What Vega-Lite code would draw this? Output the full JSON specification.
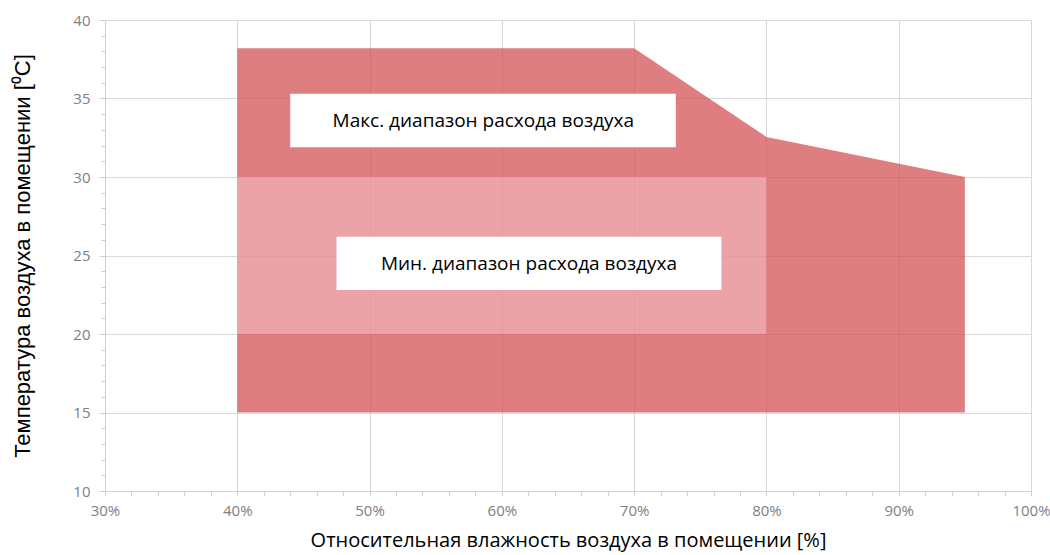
{
  "$schema": "https://vega.github.io/schema/vega-lite/v6.json",
  "width": 926,
  "height": 471,
  "autosize": {"type": "none"},
  "padding": {"left": 105, "top": 20, "right": 19, "bottom": 64},
  "background": "white",
  "config": {
    "view": {"stroke": null},
    "axis": {
      "gridColor": "#d9d9d9",
      "domainColor": "#d0d0d0",
      "tickColor": "#d0d0d0",
      "labelColor": "#808080",
      "labelFont": "Open Sans",
      "labelFontSize": 15,
      "labelFlush": false,
      "titleFontWeight": "normal",
      "titleColor": "#000000"
    }
  },
  "datasets": {
    "maxRange": [
      {"rh": 40, "t": 38.2},
      {"rh": 70, "t": 38.2},
      {"rh": 80, "t": 32.55},
      {"rh": 95, "t": 30}
    ],
    "minRange": [
      {"rh1": 40, "rh2": 80, "t1": 20, "t2": 30}
    ],
    "labels": [
      {"x1": 44, "x2": 73.15, "y1": 31.9, "y2": 35.3, "xm": 58.6, "ym": 33.55, "label": "Макс. диапазон расхода воздуха"},
      {"x1": 47.5, "x2": 76.6, "y1": 22.8, "y2": 26.2, "xm": 62.05, "ym": 24.45, "label": "Мин. диапазон расхода воздуха"}
    ]
  },
  "resolve": {"axis": {"x": "independent", "y": "independent"}},
  "layer": [
    {
      "data": {"name": "maxRange"},
      "mark": {"type": "area", "color": "#D2474C", "opacity": 0.7, "interpolate": "linear"},
      "encoding": {
        "x": {
          "field": "rh", "type": "quantitative",
          "scale": {"domain": [30, 100], "nice": false, "zero": false},
          "axis": {
            "orient": "bottom",
            "values": [30, 40, 50, 60, 70, 80, 90, 100],
            "labelExpr": "datum.value + '%'",
            "grid": true,
            "tickSize": 5,
            "labelPadding": 7,
            "title": "Относительная влажность воздуха в помещении [%]",
            "titleFont": "Open Sans",
            "titleFontSize": 20,
            "titlePadding": 12
          }
        },
        "y": {
          "field": "t", "type": "quantitative",
          "scale": {"domain": [10, 40], "nice": false, "zero": false},
          "axis": {
            "orient": "left",
            "values": [10, 15, 20, 25, 30, 35, 40],
            "grid": true,
            "tickSize": 6,
            "labelPadding": 9,
            "title": "Температура воздуха в помещении [⁰C]",
            "titleFont": "Liberation Sans",
            "titleFontSize": 22,
            "titlePadding": 38
          }
        },
        "y2": {"datum": 15}
      }
    },
    {
      "data": {"name": "minRange"},
      "mark": {"type": "rect", "color": "#FFD7DE", "opacity": 0.42},
      "encoding": {
        "x": {
          "field": "rh1", "type": "quantitative",
          "axis": {
            "orient": "bottom",
            "values": [32, 34, 36, 38, 42, 44, 46, 48, 52, 54, 56, 58, 62, 64, 66, 68, 72, 74, 76, 78, 82, 84, 86, 88, 92, 94, 96, 98],
            "labels": false, "grid": false, "domain": false,
            "tickSize": 5, "title": null
          }
        },
        "x2": {"field": "rh2"},
        "y": {
          "field": "t1", "type": "quantitative",
          "axis": {
            "orient": "left",
            "values": [11, 12, 13, 14, 16, 17, 18, 19, 21, 22, 23, 24, 26, 27, 28, 29, 31, 32, 33, 34, 36, 37, 38, 39],
            "labels": false, "grid": false, "domain": false,
            "tickSize": 4, "title": null
          }
        },
        "y2": {"field": "t2"}
      }
    },
    {
      "data": {"name": "labels"},
      "mark": {"type": "rect", "color": "#ffffff", "opacity": 1},
      "encoding": {
        "x": {"field": "x1", "type": "quantitative", "axis": null},
        "x2": {"field": "x2"},
        "y": {"field": "y1", "type": "quantitative", "axis": null},
        "y2": {"field": "y2"}
      }
    },
    {
      "data": {"name": "labels"},
      "mark": {"type": "text", "font": "Open Sans", "fontSize": 19, "color": "#000000", "align": "center", "baseline": "middle"},
      "encoding": {
        "x": {"field": "xm", "type": "quantitative", "axis": null},
        "y": {"field": "ym", "type": "quantitative", "axis": null},
        "text": {"field": "label"}
      }
    }
  ]
}
